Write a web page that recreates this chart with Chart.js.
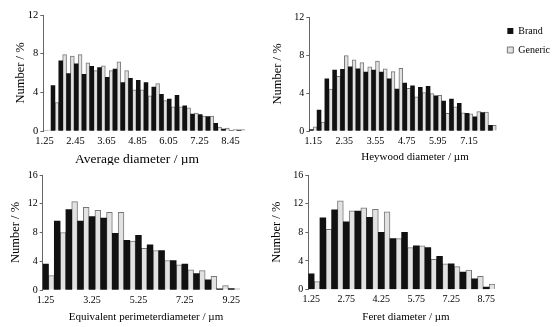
<!DOCTYPE html>
<html lang="en">
<head>
    <meta charset="UTF-8">
    <title>Particle size distribution - Brand x Generic</title>
    <style>
        body { margin: 0; background: #fff; }
        #container { position: relative; width: 560px; height: 327px; overflow: hidden; }
        #container canvas { position: absolute; }
    </style>
</head>
<body>
    <div id="container">
        <canvas id="chartAverage" width="250" height="165" style="left:0px;top:0px"></canvas>
        <canvas id="chartHeywood" width="310" height="165" style="left:250px;top:0px"></canvas>
        <canvas id="chartPerimeter" width="250" height="160" style="left:0px;top:165px"></canvas>
        <canvas id="chartFeret" width="310" height="160" style="left:250px;top:165px"></canvas>
    </div>

<script src="https://cdn.jsdelivr.net/npm/chart.js"></script>
<script>

// ---- data (Number / % per size bin) ----

// Average diameter, bins of 0.3 um starting at 1.25
const averageStart = 1.25
const averageBin = 0.3
const averageTicks = [1.25, 2.45, 3.65, 4.85, 6.05, 7.25, 8.45]
const averageBrand = [0, 4.7, 7.25, 5.95, 6.95, 5.85, 6.7, 6.55, 5.55, 6.4, 5.0, 5.45, 5.25, 5.0, 4.55, 3.8, 3.3, 3.7, 2.6, 1.75, 1.7, 1.5, 0.8, 0.2, 0.05, 0.1]
const averageGeneric = [0.1, 2.95, 7.9, 7.75, 7.9, 7.05, 6.25, 6.75, 6.25, 7.15, 6.25, 4.25, 4.25, 3.65, 4.9, 3.15, 2.5, 2.5, 2.4, 1.85, 1.55, 1.55, 0.4, 0.3, 0.15, 0.15]

// Heywood diameter, bins of 0.3 um starting at 1.15
const heywoodStart = 1.15
const heywoodBin = 0.3
const heywoodTicks = [1.15, 2.35, 3.55, 4.75, 5.95, 7.15]
const heywoodBrand = [0.15, 2.2, 5.5, 6.4, 6.5, 6.75, 6.55, 6.2, 6.4, 6.2, 5.5, 4.4, 5.05, 4.75, 4.6, 4.7, 3.7, 3.15, 3.35, 2.9, 1.85, 1.5, 1.95, 0.6]
const heywoodGeneric = [0.45, 0.95, 4.4, 5.75, 7.95, 7.5, 7.2, 6.75, 7.35, 6.55, 6.25, 6.6, 4.5, 3.6, 4.05, 3.95, 3.75, 1.85, 2.55, 1.9, 1.8, 2.05, 2.0, 0.6]

// Equivalent perimeter diameter, bins of 0.5 um starting at 1.25
const perimeterStart = 1.25
const perimeterBin = 0.5
const perimeterTicks = [1.25, 3.25, 5.25, 7.25, 9.25]
const perimeterBrand = [3.6, 9.6, 11.2, 9.6, 10.2, 10.0, 7.9, 6.9, 7.6, 6.3, 5.5, 4.1, 3.6, 2.3, 1.4, 0.15, 0.2]
const perimeterGeneric = [2.0, 8.0, 12.3, 11.5, 11.1, 10.8, 10.8, 6.8, 5.8, 5.5, 4.1, 3.5, 2.8, 2.7, 1.9, 0.6, 0.15]

// Feret diameter, bins of 0.5 um starting at 1.25
const feretStart = 1.25
const feretBin = 0.5
const feretTicks = [1.25, 2.75, 4.25, 5.75, 7.25, 8.75]
const feretBrand = [2.2, 10.0, 11.15, 9.45, 10.95, 10.1, 8.0, 7.1, 8.0, 6.1, 5.85, 4.65, 3.6, 2.45, 1.5, 0.35]
const feretGeneric = [1.1, 8.4, 12.4, 11.0, 11.4, 11.2, 10.85, 7.1, 5.85, 6.1, 4.2, 3.6, 3.2, 2.7, 1.85, 0.75]

const seriesNames = ['Brand', 'Generic']

const fonte = "'Liberation Serif', 'Times New Roman', serif"
Chart.defaults.font.family = fonte
Chart.defaults.color = '#000'

// x axis title written at a fixed spot under each panel (the source figure
// does not centre it on the plot area)
const tituloEixoX = {
    id: 'tituloEixoX',
    afterDraw(chart, args, opts) {
        const ctx = chart.ctx
        ctx.save()
        ctx.font = opts.size + 'px ' + fonte
        ctx.fillStyle = '#000'
        ctx.textAlign = 'center'
        ctx.textBaseline = 'middle'
        ctx.fillText(opts.text, opts.x, opts.y)
        ctx.restore()
    }
}

function criarGrafico(idCanvas, g) {
    // tick label sits at fraction "tickAt" of the bin pair (0 = left edge)
    const pontos = (valores) => valores.map((v, i) => ({ x: g.start + g.bin * (i + 0.5 - g.tickAt), y: v }))
    const xMin = g.start - g.bin * g.tickAt
    const xMax = xMin + g.bin * (g.brand.length + g.extra)

    return new Chart(document.getElementById(idCanvas), {
        type: 'bar',
        plugins: [tituloEixoX],
        data: {
            datasets: [{
                label: seriesNames[0],
                data: pontos(g.brand),
                backgroundColor: '#111111',
                borderColor: '#111111',
                borderWidth: 0
            }, {
                label: seriesNames[1],
                data: pontos(g.generic),
                backgroundColor: '#e2e2e2',
                borderColor: '#777777',
                borderWidth: 1
            }]
        },
        options: {
            responsive: false,
            animation: false,
            layout: { padding: g.padding },
            datasets: { bar: { categoryPercentage: 1, barPercentage: 1 } },
            plugins: {
                tooltip: { enabled: false },
                tituloEixoX: g.xTitle,
                legend: g.legend ? {
                    display: true,
                    position: 'right',
                    align: 'start',
                    labels: { boxWidth: 6, boxHeight: 6, padding: 9, font: { size: 10 }, color: '#000' }
                } : { display: false }
            },
            scales: {
                x: {
                    type: 'linear',
                    min: xMin,
                    max: xMax,
                    offset: false,
                    bounds: 'data',
                    grid: { display: false, drawTicks: false },
                    border: { display: false },
                    afterBuildTicks: (axis) => { axis.ticks = g.ticks.map(v => ({ value: v })) },
                    afterFit: (axis) => { axis.height = g.xHeight },
                    ticks: {
                        autoSkip: false,
                        maxRotation: 0,
                        padding: 4,
                        font: { size: g.tickSize },
                        callback: (v) => v.toFixed(2)
                    }
                },
                y: {
                    min: 0,
                    max: g.yMax,
                    grid: { drawOnChartArea: false, drawTicks: true, tickLength: 3, color: '#666' },
                    border: { display: true, color: '#666' },
                    afterFit: (axis) => { axis.width = g.yWidth },
                    ticks: { stepSize: 4, padding: 2, font: { size: g.tickSize } },
                    title: {
                        display: true,
                        text: 'Number / %',
                        font: { size: 12.5 },
                        padding: { top: g.yTitlePad, bottom: 0 }
                    }
                }
            }
        }
    })
}

criarGrafico('chartAverage', {
    start: averageStart, bin: averageBin, ticks: averageTicks,
    brand: averageBrand, generic: averageGeneric, yMax: 12,
    xTitle: { text: 'Average diameter / \u00b5m', x: 137, y: 159, size: 13.5 },
    tickAt: 0.15, extra: 0, legend: false, tickSize: 10.5,
    padding: { top: 15, right: 5.2, bottom: 0, left: 0 },
    yWidth: 43.3, xHeight: 34, yTitlePad: 13.5
})

criarGrafico('chartHeywood', {
    start: heywoodStart, bin: heywoodBin, ticks: heywoodTicks,
    brand: heywoodBrand, generic: heywoodGeneric, yMax: 12,
    xTitle: { text: 'Heywood diameter / \u00b5m', x: 165, y: 157, size: 11 },
    tickAt: 0.5, extra: 0.27, legend: true, tickSize: 10,
    padding: { top: 17, right: 0, bottom: 0, left: 0 },
    yWidth: 59.3, xHeight: 34, yTitlePad: 20.5
})

criarGrafico('chartPerimeter', {
    start: perimeterStart, bin: perimeterBin, ticks: perimeterTicks,
    brand: perimeterBrand, generic: perimeterGeneric, yMax: 16,
    xTitle: { text: 'Equivalent perimeterdiameter / \u00b5m', x: 146, y: 152, size: 11 },
    tickAt: 0.25, extra: 0, legend: false, tickSize: 10,
    padding: { top: 10, right: 10, bottom: 0, left: 0 },
    yWidth: 42.7, xHeight: 35, yTitlePad: 8.5
})

criarGrafico('chartFeret', {
    start: feretStart, bin: feretBin, ticks: feretTicks,
    brand: feretBrand, generic: feretGeneric, yMax: 16,
    xTitle: { text: 'Feret diameter / \u00b5m', x: 156, y: 152, size: 11 },
    tickAt: 0.25, extra: 0, legend: false, tickSize: 10,
    padding: { top: 10, right: 65, bottom: 0, left: 0 },
    yWidth: 58.3, xHeight: 35.5, yTitlePad: 19.5
})

</script>
</body>
</html>
